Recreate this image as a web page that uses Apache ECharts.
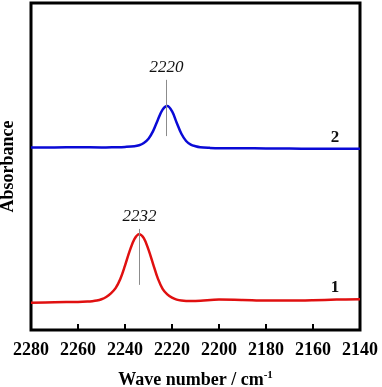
<!DOCTYPE html>
<html>
<head>
<meta charset="utf-8">
<script src="https://cdn.jsdelivr.net/npm/echarts@6/dist/echarts.min.js"></script>
<style>
html,body{margin:0;padding:0;background:#fff;}
#chart{width:382px;height:387px;}
</style>
</head>
<body>
<div id="chart"></div>
<script>
// Spectrum 2 (blue)
const blueX = [2280, 2270, 2260, 2250, 2244, 2240, 2236, 2234, 2232, 2230, 2228, 2226, 2224, 2222, 2220, 2218, 2216, 2214, 2212, 2210, 2208, 2204, 2200, 2190, 2180, 2170, 2160, 2150, 2140];
const blueY = [55.8, 55.8, 55.9, 55.8, 55.9, 56.0, 56.2, 56.5, 57.2, 58.5, 60.9, 64.3, 67.4, 68.5, 66.9, 63.4, 60.0, 57.8, 56.7, 56.2, 55.9, 55.7, 55.6, 55.6, 55.5, 55.5, 55.4, 55.4, 55.4];
// Spectrum 1 (red)
const redX = [2280, 2270, 2260, 2256, 2254, 2252, 2250, 2248, 2246, 2244, 2242, 2240, 2238, 2236, 2234, 2232, 2230, 2228, 2226, 2224, 2222, 2220, 2218, 2216, 2214, 2210, 2200, 2190, 2180, 2170, 2160, 2150, 2140];
const redY = [8.3, 8.5, 8.6, 8.7, 8.8, 9.0, 9.4, 10.1, 11.2, 12.8, 15.6, 19.7, 24.2, 27.8, 29.3, 28.1, 24.6, 20.1, 15.7, 12.6, 10.9, 9.9, 9.3, 9.0, 8.9, 8.9, 9.3, 9.2, 9.0, 9.0, 9.1, 9.3, 9.4];
// Peak annotations: [label, x position, y bottom, y top]
const peakLabels = ['2220', '2232'];
const peakX = [2222.3, 2233.8];
const peakLineY = [[59.3, 76.5], [13.8, 30.9]];
// Curve labels
const curveNames = ['2', '1'];
const curveLabelPos = [[2150.6, 58.7], [2150.6, 13.1]];

const serif = '"Liberation Serif","Times New Roman",serif';
function pairs(xs, ys){ return xs.map((x,i)=>[x, ys[i]]); }

function peakMark(i){
  return {
    symbol: ['none','none'],
    silent: true,
    lineStyle: {color: '#8c8c8c', width: 1, type: 'solid'},
    label: {show: true, position: 'end', formatter: peakLabels[i], fontFamily: serif, fontStyle: 'italic', fontSize: 17, color: '#111', distance: 4},
    data: [[{coord: [peakX[i], peakLineY[i][0]]}, {coord: [peakX[i], peakLineY[i][1]]}]]
  };
}
function nameMark(i){
  return {
    symbol: 'circle', symbolSize: 0, silent: true,
    label: {show: true, position: 'inside', formatter: curveNames[i], fontFamily: serif, fontWeight: 'bold', fontSize: 17, color: '#111'},
    data: [{coord: curveLabelPos[i]}]
  };
}

const chart = echarts.init(document.getElementById('chart'), null, {renderer: 'canvas'});
chart.setOption({
  animation: false,
  backgroundColor: '#fff',
  grid: {left: 31, right: 22, top: 3, bottom: 57, outerBoundsMode: 'none', containLabel: false, show: true, borderColor: '#000', borderWidth: 3, backgroundColor: 'transparent'},
  xAxis: {
    type: 'value', inverse: true, min: 2140, max: 2280, interval: 20,
    axisLine: {show: false},
    axisTick: {show: true, inside: true, length: 6, lineStyle: {color: '#000', width: 2}},
    splitLine: {show: false},
    axisLabel: {fontFamily: serif, fontWeight: 'bold', fontSize: 18, color: '#000', margin: 11, formatter: v => String(v)},
    name: '{a|Wave number / cm}{s|-1}',
    nameLocation: 'middle', nameGap: 40,
    nameTextStyle: {
      rich: {
        a: {fontFamily: serif, fontWeight: 'bold', fontSize: 18, color: '#000'},
        s: {fontFamily: serif, fontWeight: 'bold', fontSize: 11, color: '#000', verticalAlign: 'top', padding: [0,0,10,0]}
      }
    }
  },
  yAxis: {
    type: 'value', min: 0, max: 100,
    axisLine: {show: false}, axisTick: {show: false}, axisLabel: {show: false}, splitLine: {show: false},
    name: 'Absorbance', nameLocation: 'middle', nameGap: 14,
    nameTextStyle: {fontFamily: serif, fontWeight: 'bold', fontSize: 18, color: '#000'}
  },
  series: [
    {type: 'line', name: '2', data: pairs(blueX, blueY), smooth: 0.35, showSymbol: false,
     lineStyle: {color: '#0a0ad6', width: 2.5}, itemStyle: {color: '#0a0ad6'},
     markLine: peakMark(0), markPoint: nameMark(0)},
    {type: 'line', name: '1', data: pairs(redX, redY), smooth: 0.35, showSymbol: false,
     lineStyle: {color: '#e01010', width: 2.5}, itemStyle: {color: '#e01010'},
     markLine: peakMark(1), markPoint: nameMark(1)}
  ]
});
</script>
</body>
</html>
